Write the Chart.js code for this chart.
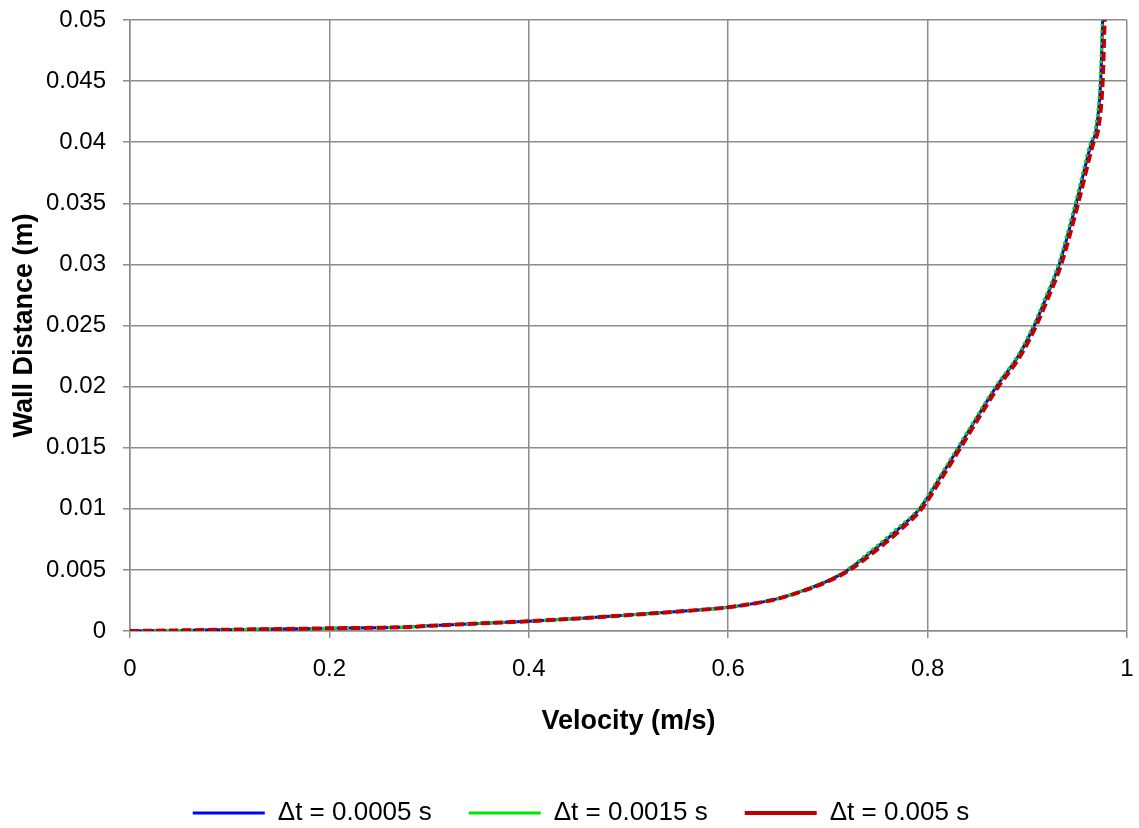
<!DOCTYPE html>
<html>
<head>
<meta charset="utf-8">
<title>Velocity profile</title>
<script src="https://cdn.jsdelivr.net/npm/chart.js@4.4.1/dist/chart.umd.min.js"></script>
<style>
  html, body { margin: 0; padding: 0; background: #fff; }
  #wrap { width: 1139px; height: 828px; }
</style>
</head>
<body>
<div id="wrap"><canvas id="profile"></canvas></div>
<script>
// wall distance (m) shared by the three runs
const wallDistance = [0, 0.00005, 0.00011, 0.00016, 0.00022, 0.00027, 0.00033, 0.00042, 0.00062, 0.0008,
  0.00103, 0.0013, 0.0016, 0.00194, 0.00265, 0.0036, 0.0041, 0.005, 0.0069, 0.0083,
  0.01, 0.0125, 0.015, 0.0178, 0.02, 0.0225, 0.025, 0.0271, 0.03, 0.035,
  0.04, 0.041, 0.045, 0.05];

// velocity (m/s) per time step
const velDt0005 = [0, 0.05, 0.1, 0.15, 0.2, 0.25, 0.28, 0.3, 0.35, 0.4,
  0.45, 0.5, 0.55, 0.6, 0.65, 0.685, 0.7, 0.72, 0.75, 0.77,
  0.792, 0.812, 0.831, 0.852, 0.869, 0.891, 0.907, 0.918, 0.932, 0.949,
  0.9645, 0.969, 0.9736, 0.9756];
const velDt0015 = [0, 0.05, 0.1, 0.15, 0.2, 0.25, 0.28, 0.3, 0.35, 0.4,
  0.45, 0.5, 0.55, 0.6, 0.65, 0.684, 0.699, 0.719, 0.748, 0.768,
  0.791, 0.811, 0.83, 0.851, 0.868, 0.89, 0.906, 0.917, 0.931, 0.948,
  0.9635, 0.968, 0.973, 0.9752];
const velDt005 = [0, 0.05, 0.1, 0.15, 0.2, 0.25, 0.28, 0.3, 0.35, 0.4,
  0.45, 0.5, 0.55, 0.6, 0.65, 0.686, 0.701, 0.722, 0.753, 0.773,
  0.794, 0.814, 0.833, 0.854, 0.871, 0.893, 0.909, 0.92, 0.934, 0.951,
  0.9665, 0.971, 0.9756, 0.9776];

const seriesLabels = ['\u0394t = 0.0005 s', '\u0394t = 0.0015 s', '\u0394t = 0.005 s'];
const xTickLabels = ['0', '0.2', '0.4', '0.6', '0.8', '1'];
const yTickLabels = ['0', '0.005', '0.01', '0.015', '0.02', '0.025', '0.03', '0.035', '0.04', '0.045', '0.05'];

const FONT = '"Liberation Sans", Arial, sans-serif';
const GRID = '#8c8c8c';

function toPoints(xs) {
  return xs.map((v, i) => ({ x: v, y: wallDistance[i] }));
}

const lineBase = { pointRadius: 0, pointHoverRadius: 0, fill: false, cubicInterpolationMode: 'monotone' };

new Chart(document.getElementById('profile'), {
  type: 'line',
  data: {
    datasets: [
      Object.assign({ label: seriesLabels[0], data: toPoints(velDt0005), borderColor: '#0000ff',
        backgroundColor: '#0000ff', borderWidth: 3, order: 2 }, lineBase),
      Object.assign({ label: seriesLabels[1], data: toPoints(velDt0015), borderColor: '#00e600',
        backgroundColor: '#00e600', borderWidth: 3, borderDash: [3, 3], order: 1 }, lineBase),
      Object.assign({ label: seriesLabels[2], data: toPoints(velDt005), borderColor: '#c00000',
        backgroundColor: '#c00000', borderWidth: 4, borderDash: [9, 4], order: 0 }, lineBase)
    ]
  },
  options: {
    responsive: true,
    maintainAspectRatio: false,
    animation: false,
    events: [],
    layout: { padding: { left: 35, right: 12, top: 20, bottom: 0 } },
    plugins: {
      tooltip: { enabled: false },
      legend: {
        position: 'bottom',
        maxHeight: 65,
        labels: {
          usePointStyle: true,
          pointStyle: 'line',
          pointStyleWidth: 72,
          padding: 37,
          color: '#000',
          font: { family: FONT, size: 26 },
          sort: (a, b) => a.datasetIndex - b.datasetIndex
        }
      }
    },
    scales: {
      x: {
        type: 'linear',
        min: 0,
        max: 1,
        afterFit: (axis) => {
          axis.height = 132;
          axis.paddingLeft = 0;
          axis.paddingRight = 0;
        },
        ticks: {
          stepSize: 0.2,
          padding: 17,
          color: '#000',
          font: { family: FONT, size: 24 },
          callback: (v, i) => xTickLabels[i]
        },
        grid: { color: GRID, lineWidth: 1.5, tickLength: 7, tickColor: GRID },
        border: { color: GRID, width: 1.5 },
        title: {
          display: true,
          text: 'Velocity (m/s)',
          color: '#000',
          font: { family: FONT, size: 27, weight: 'bold' },
          padding: { top: 22, bottom: 24.8 }
        }
      },
      y: {
        type: 'linear',
        min: 0,
        max: 0.05,
        afterFit: (axis) => {
          axis.width = 95;
          axis.paddingTop = 0;
          axis.paddingBottom = 0;
        },
        ticks: {
          stepSize: 0.005,
          padding: 17,
          color: '#000',
          font: { family: FONT, size: 24 },
          callback: (v, i) => yTickLabels[i]
        },
        grid: { color: GRID, lineWidth: 1.5, tickLength: 7, tickColor: GRID },
        border: { color: GRID, width: 1.5 },
        title: {
          display: true,
          text: 'Wall Distance (m)',
          color: '#000',
          font: { family: FONT, size: 27, weight: 'bold' },
          padding: { top: -26.2, bottom: 0 }
        }
      }
    }
  }
});
</script>
</body>
</html>
